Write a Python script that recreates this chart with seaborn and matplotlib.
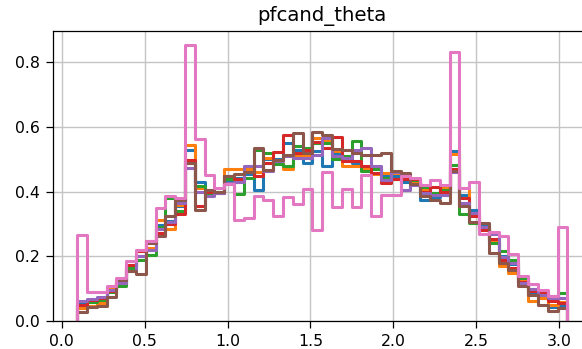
import numpy as np
import pandas as pd
import matplotlib
matplotlib.use("Agg")
import matplotlib.pyplot as plt
import seaborn as sns

# ---- data (bin heights, density-normalised) ----
theta_min = 0.0943
theta_max = 3.0473
n_bins = 50

series_blue = [0.055, 0.06, 0.07, 0.095, 0.118, 0.165, 0.2, 0.22, 0.298, 0.31,
               0.355, 0.528, 0.43, 0.4, 0.4, 0.435, 0.442, 0.455, 0.406, 0.5,
               0.5, 0.55, 0.53, 0.489, 0.525, 0.478, 0.52, 0.5, 0.49, 0.475,
               0.473, 0.452, 0.45, 0.43, 0.43, 0.375, 0.385, 0.395, 0.525, 0.39,
               0.344, 0.3, 0.25, 0.2, 0.175, 0.128, 0.087, 0.071, 0.043, 0.05]
series_orange = [0.04, 0.047, 0.055, 0.105, 0.12, 0.17, 0.2, 0.225, 0.313, 0.285,
                 0.36, 0.545, 0.41, 0.405, 0.395, 0.47, 0.47, 0.47, 0.46, 0.505,
                 0.49, 0.47, 0.51, 0.51, 0.565, 0.56, 0.525, 0.478, 0.478, 0.47,
                 0.455, 0.458, 0.458, 0.44, 0.432, 0.405, 0.39, 0.411, 0.517, 0.41,
                 0.33, 0.29, 0.245, 0.171, 0.148, 0.13, 0.061, 0.071, 0.05, 0.06]
series_green = [0.05, 0.058, 0.065, 0.09, 0.107, 0.164, 0.19, 0.205, 0.29, 0.38,
                0.339, 0.49, 0.419, 0.395, 0.4, 0.44, 0.394, 0.442, 0.53, 0.52,
                0.485, 0.48, 0.54, 0.535, 0.55, 0.55, 0.5, 0.51, 0.556, 0.465,
                0.47, 0.442, 0.44, 0.445, 0.435, 0.416, 0.395, 0.405, 0.484, 0.33,
                0.303, 0.285, 0.241, 0.215, 0.19, 0.133, 0.097, 0.092, 0.076, 0.087]
series_red = [0.048, 0.065, 0.072, 0.093, 0.125, 0.172, 0.215, 0.246, 0.272, 0.3,
              0.33, 0.499, 0.355, 0.398, 0.396, 0.447, 0.44, 0.46, 0.447, 0.49,
              0.522, 0.576, 0.52, 0.53, 0.555, 0.535, 0.569, 0.494, 0.494, 0.478,
              0.458, 0.427, 0.44, 0.44, 0.44, 0.4, 0.416, 0.4, 0.47, 0.38,
              0.325, 0.28, 0.255, 0.19, 0.165, 0.122, 0.092, 0.086, 0.061, 0.056]
series_purple = [0.063, 0.068, 0.074, 0.097, 0.118, 0.155, 0.2, 0.22, 0.286, 0.305,
                 0.365, 0.473, 0.4, 0.386, 0.395, 0.427, 0.43, 0.48, 0.478, 0.463,
                 0.494, 0.51, 0.505, 0.505, 0.515, 0.566, 0.51, 0.505, 0.53, 0.535,
                 0.48, 0.437, 0.46, 0.406, 0.422, 0.395, 0.39, 0.39, 0.46, 0.365,
                 0.335, 0.29, 0.27, 0.198, 0.18, 0.118, 0.099, 0.081, 0.071, 0.071]
series_brown = [0.028, 0.042, 0.045, 0.075, 0.128, 0.155, 0.145, 0.24, 0.262, 0.324,
                0.375, 0.488, 0.344, 0.404, 0.4, 0.45, 0.456, 0.46, 0.535, 0.468,
                0.499, 0.515, 0.581, 0.52, 0.584, 0.576, 0.532, 0.53, 0.52, 0.514,
                0.514, 0.52, 0.463, 0.458, 0.425, 0.386, 0.375, 0.365, 0.463, 0.355,
                0.305, 0.303, 0.21, 0.179, 0.159, 0.107, 0.081, 0.05, 0.03, 0.04]
series_pink = [0.267, 0.089, 0.089, 0.107, 0.133, 0.187, 0.219, 0.246, 0.349, 0.386,
               0.382, 0.855, 0.563, 0.453, 0.411, 0.425, 0.313, 0.319, 0.386, 0.375,
               0.326, 0.384, 0.362, 0.408, 0.282, 0.46, 0.353, 0.408, 0.353, 0.453,
               0.324, 0.391, 0.391, 0.447, 0.442, 0.422, 0.435, 0.42, 0.831, 0.411,
               0.429, 0.27, 0.274, 0.262, 0.208, 0.138, 0.115, 0.097, 0.078, 0.291]

all_series = [series_blue, series_orange, series_green, series_red,
              series_purple, series_brown, series_pink]
colors = sns.color_palette("tab10", 7)

edges = np.linspace(theta_min, theta_max, n_bins + 1)
centers = 0.5 * (edges[:-1] + edges[1:])

# ---- figure ----
W, H = 582, 349
fig = plt.figure(figsize=(W / 100, H / 100), dpi=100)
ax_left, ax_right, ax_top, ax_bottom = 52.7, 591.8, 30.7, 321.0
ax = fig.add_axes([ax_left / W, (H - ax_bottom) / H,
                   (ax_right - ax_left) / W, (ax_bottom - ax_top) / H])

for vals, col in zip(all_series, colors):
    df = pd.DataFrame({"theta": centers, "w": np.asarray(vals, dtype=float)})
    n_before = len(ax.lines)
    sns.histplot(data=df, x="theta", weights="w", bins=[float(e) for e in edges],
                 element="step", fill=False, color=col, linewidth=2.2, ax=ax)
    for line in ax.lines[n_before:]:
        xd = np.asarray(line.get_xdata(), dtype=float)
        yd = np.asarray(line.get_ydata(), dtype=float)
        line.set_data(np.r_[xd[0], xd, xd[-1]], np.r_[0.0, yd, 0.0])

ax.set_xlim(-0.0533, 3.1949)
ax.set_ylim(0, 0.898)
ax.set_xticks(np.arange(0, 3.01, 0.5))
ax.set_yticks(np.arange(0, 0.81, 0.2))
ax.set_xlabel("")
ax.set_ylabel("")
ax.grid(True, color="#c4c4c4", linewidth=1.0)
ax.set_axisbelow(True)
ax.tick_params(labelsize=11.3, length=5, width=0.9, pad=4.5)
for s in ax.spines.values():
    s.set_linewidth(0.9)
ax.spines["right"].set_visible(False)
ax.set_title("pfcand_theta", fontsize=14.2, pad=7)

fig.savefig("out.png", dpi=100)
